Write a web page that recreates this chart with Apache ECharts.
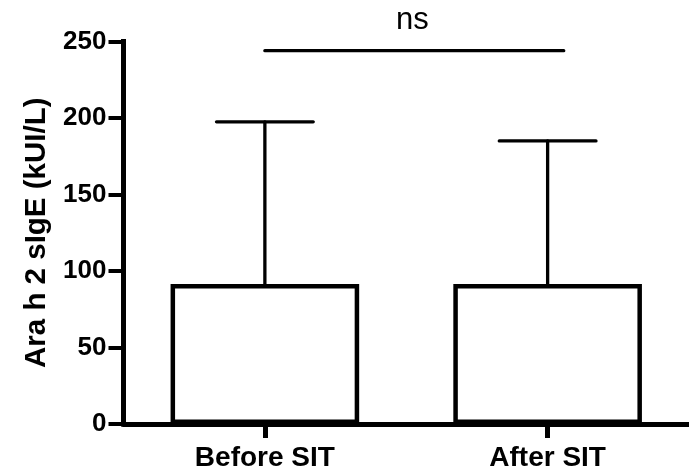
<!DOCTYPE html>
<html>
<head>
<meta charset="utf-8">
<script src="https://cdn.jsdelivr.net/npm/echarts@6/dist/echarts.min.js"></script>
<style>
html,body{margin:0;padding:0;background:#fff;}
#chart{width:689px;height:474px;}
</style>
</head>
<body>
<div id="chart"></div>
<script>
// ---- data ----
const categories = ['Before SIT', 'After SIT'];
const means = [91.5, 91.5];
const errorUpper = [197.5, 185];
const yTicks = [0, 50, 100, 150, 200, 250];
const sigLevel = 244;
const sigLabel = 'ns';
const yAxisTitle = 'Ara h 2 sIgE (kUI/L)';

const FONT = '"Liberation Sans", Arial, Helvetica, sans-serif';
const chart = echarts.init(document.getElementById('chart'), null, {renderer: 'canvas'});

const errData = categories.map((c, i) => [i, means[i], errorUpper[i]]);

const option = {
  animation: false,
  backgroundColor: '#fff',
  grid: {left: 123.5, right: -7, top: 41.5, bottom: 50, containLabel: false},
  xAxis: {
    type: 'category',
    data: categories,
    boundaryGap: true,
    axisLine: {show: true, lineStyle: {color: '#000', width: 5}},
    axisTick: {show: true, alignWithLabel: true, length: 14, lineStyle: {color: '#000', width: 5}},
    axisLabel: {color: '#000', fontFamily: FONT, fontWeight: 'bold', fontSize: 28, margin: 20},
    splitLine: {show: false}
  },
  yAxis: {
    type: 'value',
    min: yTicks[0],
    max: yTicks[yTicks.length - 1],
    interval: yTicks[1] - yTicks[0],
    name: yAxisTitle,
    nameLocation: 'middle',
    nameGap: 72,
    nameRotate: 90,
    nameTextStyle: {color: '#000', fontFamily: FONT, fontWeight: 'bold', fontSize: 29.5},
    axisLine: {show: true, lineStyle: {color: '#000', width: 5, cap: 'square'}},
    axisTick: {show: true, length: 15, lineStyle: {color: '#000', width: 4}},
    axisLabel: {color: '#000', fontFamily: FONT, fontWeight: 'bold', fontSize: 26, margin: 17},
    splitLine: {show: false}
  },
  series: [
    {
      type: 'bar',
      data: means,
      barWidth: '66.7%',
      itemStyle: {color: '#fff', borderColor: '#000', borderWidth: 4.5},
      z: 2
    },
    {
      type: 'custom',
      data: errData,
      z: 3,
      renderItem: function (params, api) {
        const x = api.value(0);
        const p0 = api.coord([x, api.value(1)]);
        const p1 = api.coord([x, api.value(2)]);
        const band = api.size([1, 0])[0];
        const half = band * 0.171;
        const style = {stroke: '#000', lineWidth: 3.3, lineCap: 'round'};
        return {
          type: 'group',
          children: [
            {type: 'line', shape: {x1: p0[0], y1: p0[1], x2: p1[0], y2: p1[1]}, style: style},
            {type: 'line', shape: {x1: p1[0] - half, y1: p1[1], x2: p1[0] + half, y2: p1[1]}, style: style}
          ]
        };
      }
    },
    {
      type: 'custom',
      data: [[0, 1, sigLevel]],
      z: 3,
      renderItem: function (params, api) {
        const a = api.coord([api.value(0), api.value(2)]);
        const b = api.coord([api.value(1), api.value(2)]);
        const band = api.size([1, 0])[0];
        const x1 = a[0];
        const x2 = b[0] + 0.057 * band;
        return {
          type: 'group',
          children: [
            {type: 'line', shape: {x1: x1, y1: a[1], x2: x2, y2: b[1]},
             style: {stroke: '#000', lineWidth: 3.3, lineCap: 'round'}},
            {type: 'text', x: (x1 + x2) / 2 - 2, y: a[1] - 15,
             style: {text: sigLabel, fill: '#000', font: '31px ' + FONT, textAlign: 'center', textVerticalAlign: 'bottom'}}
          ]
        };
      }
    }
  ]
};
chart.setOption(option);
</script>
</body>
</html>
